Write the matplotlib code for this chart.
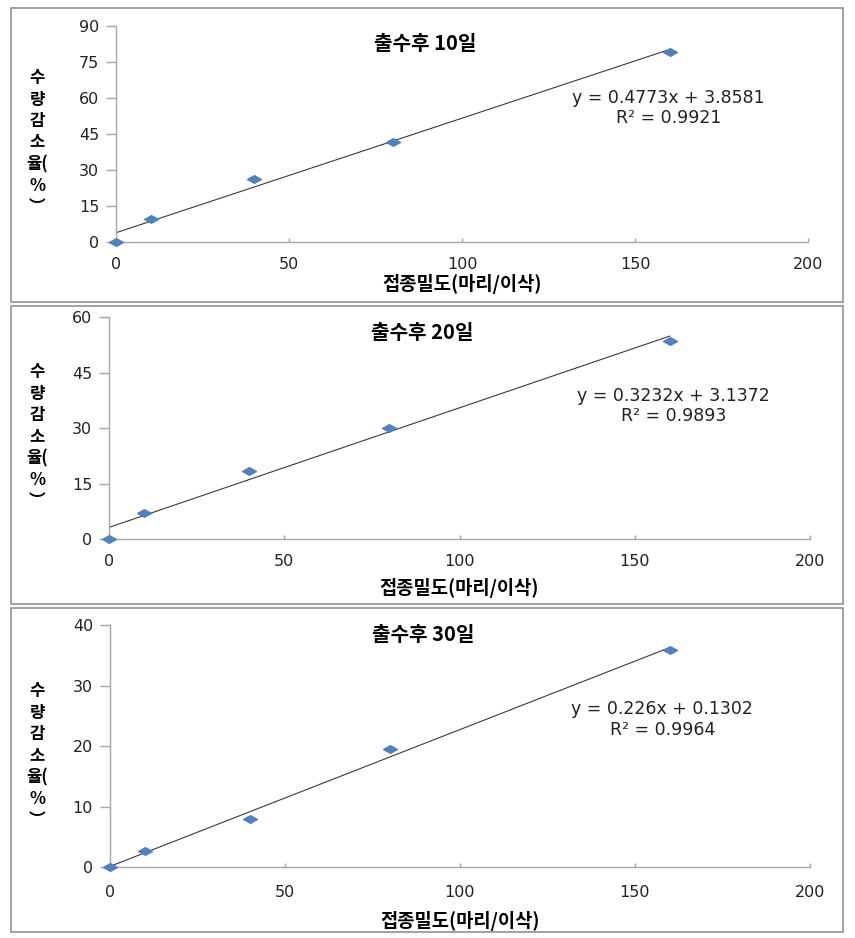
import numpy as np
import matplotlib.pyplot as plt
from matplotlib.patches import Rectangle
from matplotlib.transforms import blended_transform_factory

# 접종밀도 (마리/이삭)
density = [0, 10, 40, 80, 160]

# 수량감소율 (%) - 출수후 10, 20, 30일
loss_10 = [0, 9.7, 26.3, 41.7, 79.2]
loss_20 = [0, 7.0, 18.3, 30.0, 53.5]
loss_30 = [0, 2.7, 8.0, 19.5, 35.8]

titles = ['출수후 10일', '출수후 20일', '출수후 30일']
slopes = [0.4773, 0.3232, 0.226]
intercepts = [3.8581, 3.1372, 0.1302]
eq_labels = ['y = 0.4773x + 3.8581\nR² = 0.9921',
             'y = 0.3232x + 3.1372\nR² = 0.9893',
             'y = 0.226x + 0.1302\nR² = 0.9964']
ymax = [90, 60, 40]
ystep = [15, 15, 10]

kfont = ['Noto Sans CJK KR', 'DejaVu Sans']
blue = '#4F81BD'
gray = '#a6a6a6'
diamond = [(-1, 0), (0, 0.55), (1, 0), (0, -0.55), (-1, 0)]

fig = plt.figure(figsize=(8.55, 9.38), dpi=100)
W, H = 855, 938

# 패널 위치 (픽셀)
boxes = [(11, 8, 843, 302), (11, 306, 843, 604), (11, 608, 843, 932)]
axpos = [(116, 808, 242, 26), (109, 810, 539, 317), (109.7, 810, 867.3, 625)]
title_y = [0.92, 0.93, 0.96]
eq_xy = [(0.798, 0.62), (0.805, 0.60), (0.789, 0.61)]
xpad = [11, 11, 13]
lpad = [1, 6, 8]

series = [loss_10, loss_20, loss_30]

for i in range(3):
    x0, y0, x1, y1 = boxes[i]
    fig.patches.append(Rectangle((x0 / W, 1 - y1 / H), (x1 - x0) / W, (y1 - y0) / H,
                                 transform=fig.transFigure, fill=False,
                                 edgecolor='#9a9a9a', lw=1.3))

    l, r, b, t = axpos[i]
    ax = fig.add_axes([l / W, 1 - b / H, (r - l) / W, (b - t) / H])

    x = np.array(density)
    y = np.array(series[i])
    xs = np.array([x.min(), x.max()])
    ax.plot(xs, slopes[i] * xs + intercepts[i], color='#3a3a3a', lw=0.8, zorder=2)
    ax.plot(x, y, linestyle='none', marker=diamond, markersize=10,
            color=blue, markeredgecolor=blue, zorder=3, clip_on=False)

    ax.set_xlim(0, 200)
    ax.set_ylim(0, ymax[i])
    ax.set_xticks(range(0, 201, 50))
    ax.set_yticks(range(0, ymax[i] + 1, ystep[i]))

    for s in ['top', 'right']:
        ax.spines[s].set_visible(False)
    for s in ['left', 'bottom']:
        ax.spines[s].set_color(gray)
        ax.spines[s].set_linewidth(1.0)

    ax.tick_params(axis='y', direction='out', length=7, width=1, color=gray,
                   pad=5, labelsize=11.5, labelcolor='#222222')
    ax.tick_params(axis='x', direction='in', length=3, width=1, color=gray,
                   pad=xpad[i], labelsize=11.5, labelcolor='#222222')

    ax.set_xlabel('접종밀도(마리/이삭)', family=kfont, fontsize=13.5,
                  fontweight='bold', labelpad=lpad[i])

    ax.text(0.447, title_y[i], titles[i], transform=ax.transAxes, family=kfont,
            fontsize=14.5, fontweight='bold', ha='center', va='center')

    ax.text(eq_xy[i][0], eq_xy[i][1], eq_labels[i], transform=ax.transAxes,
            fontsize=12.5, ha='center', va='center', linespacing=1.15,
            color='#222222')

    tr = blended_transform_factory(fig.transFigure, ax.transAxes)
    ax.text(37 / W, 0.46, '수\n량\n감\n소\n율(\n%\n︶', transform=tr, family=kfont,
            fontsize=12, fontweight='bold', ha='center', va='center',
            linespacing=1.25)

plt.savefig('out.png', dpi=100)
